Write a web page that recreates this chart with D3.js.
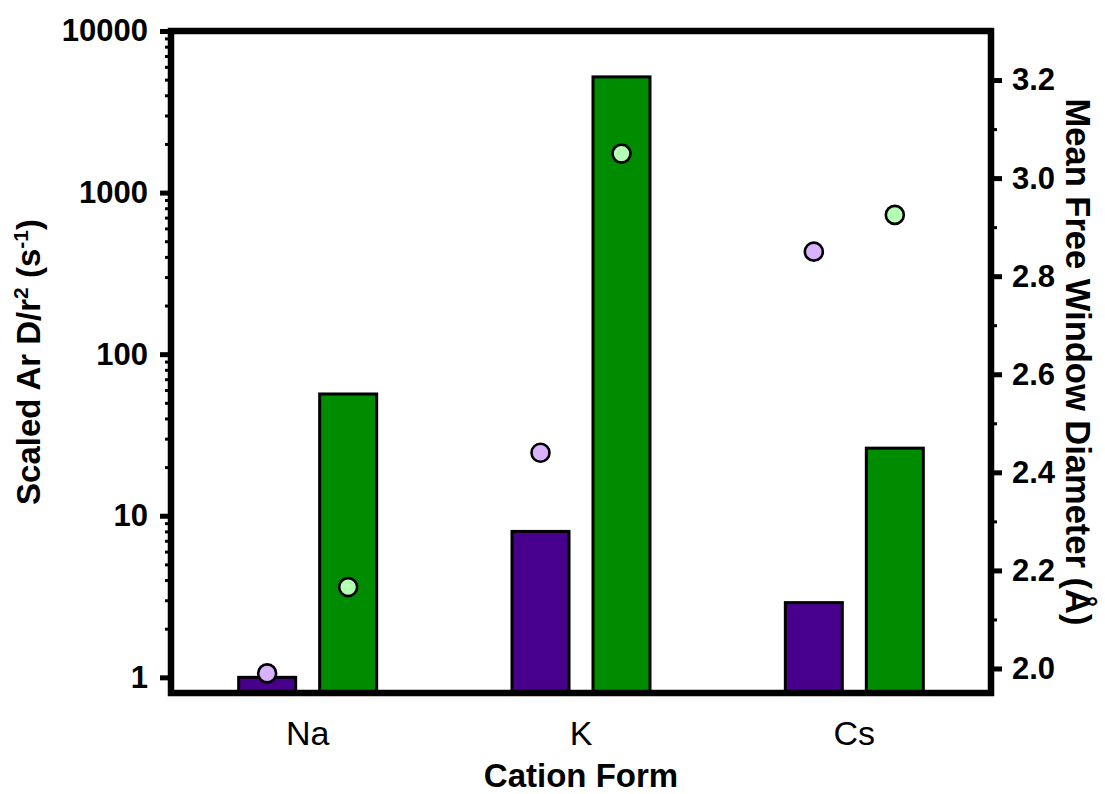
<!DOCTYPE html>
<html>
<head>
<meta charset="utf-8">
<script src="https://cdn.jsdelivr.net/npm/d3@7"></script>
<style>
  html, body { margin: 0; padding: 0; background: #fff; }
  svg { display: block; font-family: "Liberation Sans", Arial, Helvetica, sans-serif; }
</style>
</head>
<body>
<svg id="chart" width="1105" height="794"></svg>
<script>
// Cation forms on the x axis
const categories = ["Na", "K", "Cs"];
// Scaled Ar D/r² (s⁻¹), left log axis (bars)
const diffusivityA = [1.0, 8.0, 2.9];
const diffusivityB = [56.7, 5200, 26.2];
// Mean free window diameter (Å), right axis (circles)
const windowA = [1.99, 2.44, 2.85];
const windowB = [2.166, 3.05, 2.925];
// Tick values
const leftMajorTicks = [1, 10, 100, 1000, 10000];
const rightMajorTicks = [2.0, 2.2, 2.4, 2.6, 2.8, 3.0, 3.2];
const rightMinorTicks = [2.1, 2.3, 2.5, 2.7, 2.9, 3.1];

const svg = d3.select("#chart");
const plot = { left: 171, right: 991, top: 31, bottom: 693 };

const x = d3.scaleBand().domain(categories).range([plot.left, plot.right]).padding(0);
const yL = d3.scaleLog().domain([0.8, 10000]).range([plot.bottom, plot.top]);
const yR = d3.scaleLinear().domain([1.95, 3.30]).range([plot.bottom, plot.top]);

const barW = 57, barGap = 24;
const offsetA = -barGap / 2 - barW / 2;
const offsetB = barGap / 2 + barW / 2;

const colA = { bar: "#48008c", dot: "#d9b3ff" };
const colB = { bar: "#008c00", dot: "#b3ffb3" };

// Left log minor ticks (2..9 per decade)
const leftMinorTicks = [];
for (let d = 1; d < 10000; d *= 10) for (let m = 2; m <= 9; m++) leftMinorTicks.push(m * d);

const series = [
  { vals: diffusivityA, dots: windowA, off: offsetA, col: colA },
  { vals: diffusivityB, dots: windowB, off: offsetB, col: colB }
];

// Bars
const gBars = svg.append("g");
series.forEach(s => {
  gBars.selectAll(null).data(categories).enter().append("rect")
    .attr("x", (c) => x(c) + x.bandwidth() / 2 + s.off - barW / 2)
    .attr("width", barW)
    .attr("y", (c, i) => yL(s.vals[i]))
    .attr("height", (c, i) => plot.bottom - yL(s.vals[i]))
    .attr("fill", s.col.bar)
    .attr("stroke", "#000")
    .attr("stroke-width", 3);
});

// Circles on the right axis
series.forEach(s => {
  svg.append("g").selectAll("circle").data(categories).enter().append("circle")
    .attr("cx", (c) => x(c) + x.bandwidth() / 2 + s.off)
    .attr("cy", (c, i) => yR(s.dots[i]))
    .attr("r", 9)
    .attr("fill", s.col.dot)
    .attr("stroke", "#000")
    .attr("stroke-width", 2.6);
});

// Axes
function styleAxis(g, width) {
  g.select(".domain").remove();
  g.selectAll(".tick line").attr("stroke", "#000").attr("stroke-width", width);
}

const leftMajor = svg.append("g").attr("transform", `translate(${plot.left - 3},0)`)
  .call(d3.axisLeft(yL).tickValues(leftMajorTicks).tickSize(8).tickPadding(12).tickFormat(d3.format("d")));
styleAxis(leftMajor, 5);
leftMajor.selectAll(".tick text").attr("font-size", 31).attr("font-weight", "bold").attr("fill", "#000")
  .attr("font-family", "Liberation Sans, Arial, sans-serif");

const leftMinor = svg.append("g").attr("transform", `translate(${plot.left - 3},0)`)
  .call(d3.axisLeft(yL).tickValues(leftMinorTicks).tickSize(3).tickFormat(""));
styleAxis(leftMinor, 3);

const rightMajor = svg.append("g").attr("transform", `translate(${plot.right + 3},0)`)
  .call(d3.axisRight(yR).tickValues(rightMajorTicks).tickSize(8).tickPadding(10).tickFormat(d3.format(".1f")));
styleAxis(rightMajor, 5);
rightMajor.selectAll(".tick text").attr("font-size", 31).attr("font-weight", "bold").attr("fill", "#000")
  .attr("font-family", "Liberation Sans, Arial, sans-serif");

const rightMinor = svg.append("g").attr("transform", `translate(${plot.right + 3},0)`)
  .call(d3.axisRight(yR).tickValues(rightMinorTicks).tickSize(3).tickFormat(""));
styleAxis(rightMinor, 3);

// Category labels
const bottom = svg.append("g").attr("transform", `translate(0,${plot.bottom})`)
  .call(d3.axisBottom(x).tickSize(0).tickPadding(0));
bottom.select(".domain").remove();
bottom.selectAll(".tick text")
  .attr("font-size", 34).attr("fill", "#000").attr("dy", null).attr("y", 52)
  .attr("font-family", "Liberation Sans, Arial, sans-serif");

// Frame
svg.append("rect")
  .attr("x", plot.left).attr("y", plot.top)
  .attr("width", plot.right - plot.left).attr("height", plot.bottom - plot.top)
  .attr("fill", "none").attr("stroke", "#000").attr("stroke-width", 6.5);

// Axis titles
svg.append("text")
  .attr("x", (plot.left + plot.right) / 2).attr("y", 787)
  .attr("text-anchor", "middle").attr("font-size", 33).attr("font-weight", "bold")
  .text("Cation Form");

const lt = svg.append("text")
  .attr("transform", `translate(40,${(plot.top + plot.bottom) / 2}) rotate(-90)`)
  .attr("text-anchor", "middle").attr("font-size", 33).attr("font-weight", "bold");
lt.append("tspan").text("Scaled Ar D/r");
lt.append("tspan").attr("font-size", 21).attr("dy", -12).text("2");
lt.append("tspan").attr("dy", 12).text(" (s");
lt.append("tspan").attr("font-size", 21).attr("dy", -12).text("-1");
lt.append("tspan").attr("dy", 12).text(")");

svg.append("text")
  .attr("transform", `translate(1066,${(plot.top + plot.bottom) / 2}) rotate(90)`)
  .attr("text-anchor", "middle").attr("font-size", 34.5).attr("font-weight", "bold")
  .text("Mean Free Window Diameter (Å)");
</script>
</body>
</html>
